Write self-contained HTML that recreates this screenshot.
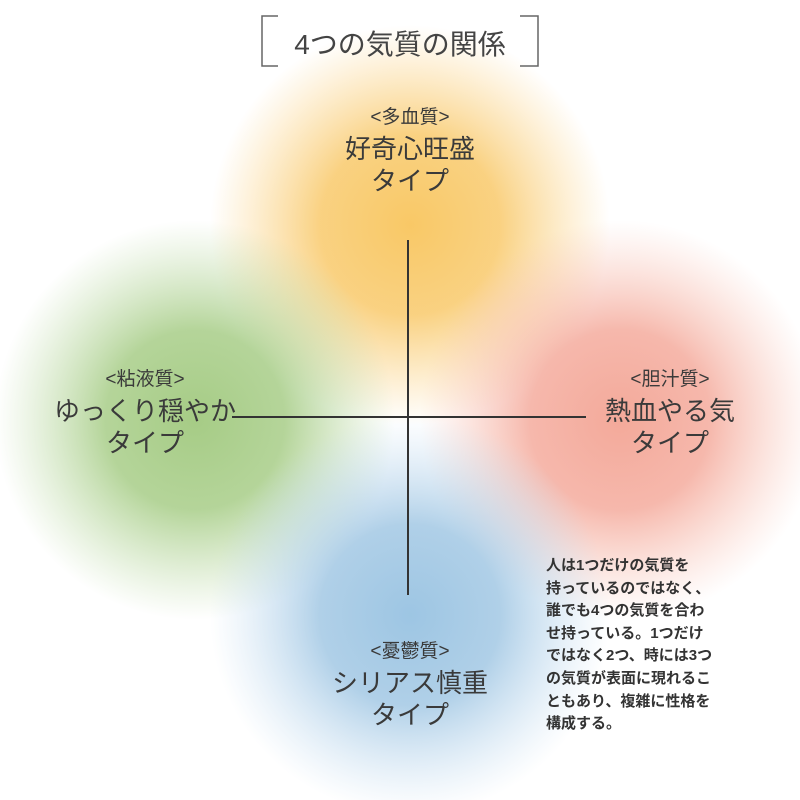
<!DOCTYPE html>
<html><head><meta charset="utf-8"><style>
body{margin:0;width:800px;height:800px;background:#fff;overflow:hidden;position:relative;font-family:"Liberation Sans","Noto Sans CJK JP",sans-serif;color:#333}
.t{position:absolute;text-align:center;font-size:26px;line-height:32px;color:#3a3a3a}
.s{font-size:19px;line-height:30px}
</style></head><body>
<svg width="800" height="800" style="position:absolute;left:0;top:0">
<defs>
<radialGradient id="o"><stop offset="0" stop-color="#f8c255" stop-opacity="0.9"/><stop offset="0.45" stop-color="#f8c662" stop-opacity="0.8"/><stop offset="1" stop-color="#fbd080" stop-opacity="0"/></radialGradient>
<radialGradient id="g"><stop offset="0" stop-color="#9cc678" stop-opacity="0.9"/><stop offset="0.45" stop-color="#a2ca80" stop-opacity="0.8"/><stop offset="1" stop-color="#b8d8a0" stop-opacity="0"/></radialGradient>
<radialGradient id="r"><stop offset="0" stop-color="#f19a88" stop-opacity="0.85"/><stop offset="0.45" stop-color="#f3a090" stop-opacity="0.75"/><stop offset="1" stop-color="#f8c0b0" stop-opacity="0"/></radialGradient>
<radialGradient id="b"><stop offset="0" stop-color="#92bfe0" stop-opacity="0.9"/><stop offset="0.45" stop-color="#9cc4e2" stop-opacity="0.8"/><stop offset="1" stop-color="#c0daf0" stop-opacity="0"/></radialGradient>
</defs>
<circle cx="410" cy="225" r="200" fill="url(#o)"/>
<circle cx="195" cy="420" r="200" fill="url(#g)"/>
<circle cx="620" cy="420" r="200" fill="url(#r)"/>
<circle cx="410" cy="615" r="200" fill="url(#b)"/>
<line x1="408" y1="240" x2="408" y2="595" stroke="#333" stroke-width="2"/>
<line x1="232" y1="417" x2="586" y2="417" stroke="#333" stroke-width="2"/>
<path d="M278 16 H262 V66 H278 M520 16 H538 V66 H520" fill="none" stroke="#666" stroke-width="1.5"/>
</svg>
<div class="t" style="left:262px;top:28px;width:276px;font-size:28px;line-height:34px;color:#444">4つの気質の関係</div>
<div class="t" style="left:280px;top:103px;width:260px"><div class="s">&lt;多血質&gt;</div>好奇心旺盛<br>タイプ</div>
<div class="t" style="left:15px;top:365px;width:260px"><div class="s">&lt;粘液質&gt;</div>ゆっくり穏やか<br>タイプ</div>
<div class="t" style="left:570px;top:365px;width:200px"><div class="s">&lt;胆汁質&gt;</div>熱血やる気<br>タイプ</div>
<div class="t" style="left:280px;top:637px;width:260px"><div class="s">&lt;憂鬱質&gt;</div>シリアス慎重<br>タイプ</div>
<div style="position:absolute;left:546px;top:555px;width:215px;font-size:15px;line-height:22.6px;font-weight:bold;color:#333">人は1つだけの気質を<br>持っているのではなく、<br>誰でも4つの気質を合わ<br>せ持っている。1つだけ<br>ではなく2つ、時には3つ<br>の気質が表面に現れるこ<br>ともあり、複雑に性格を<br>構成する。</div>
</body></html>
